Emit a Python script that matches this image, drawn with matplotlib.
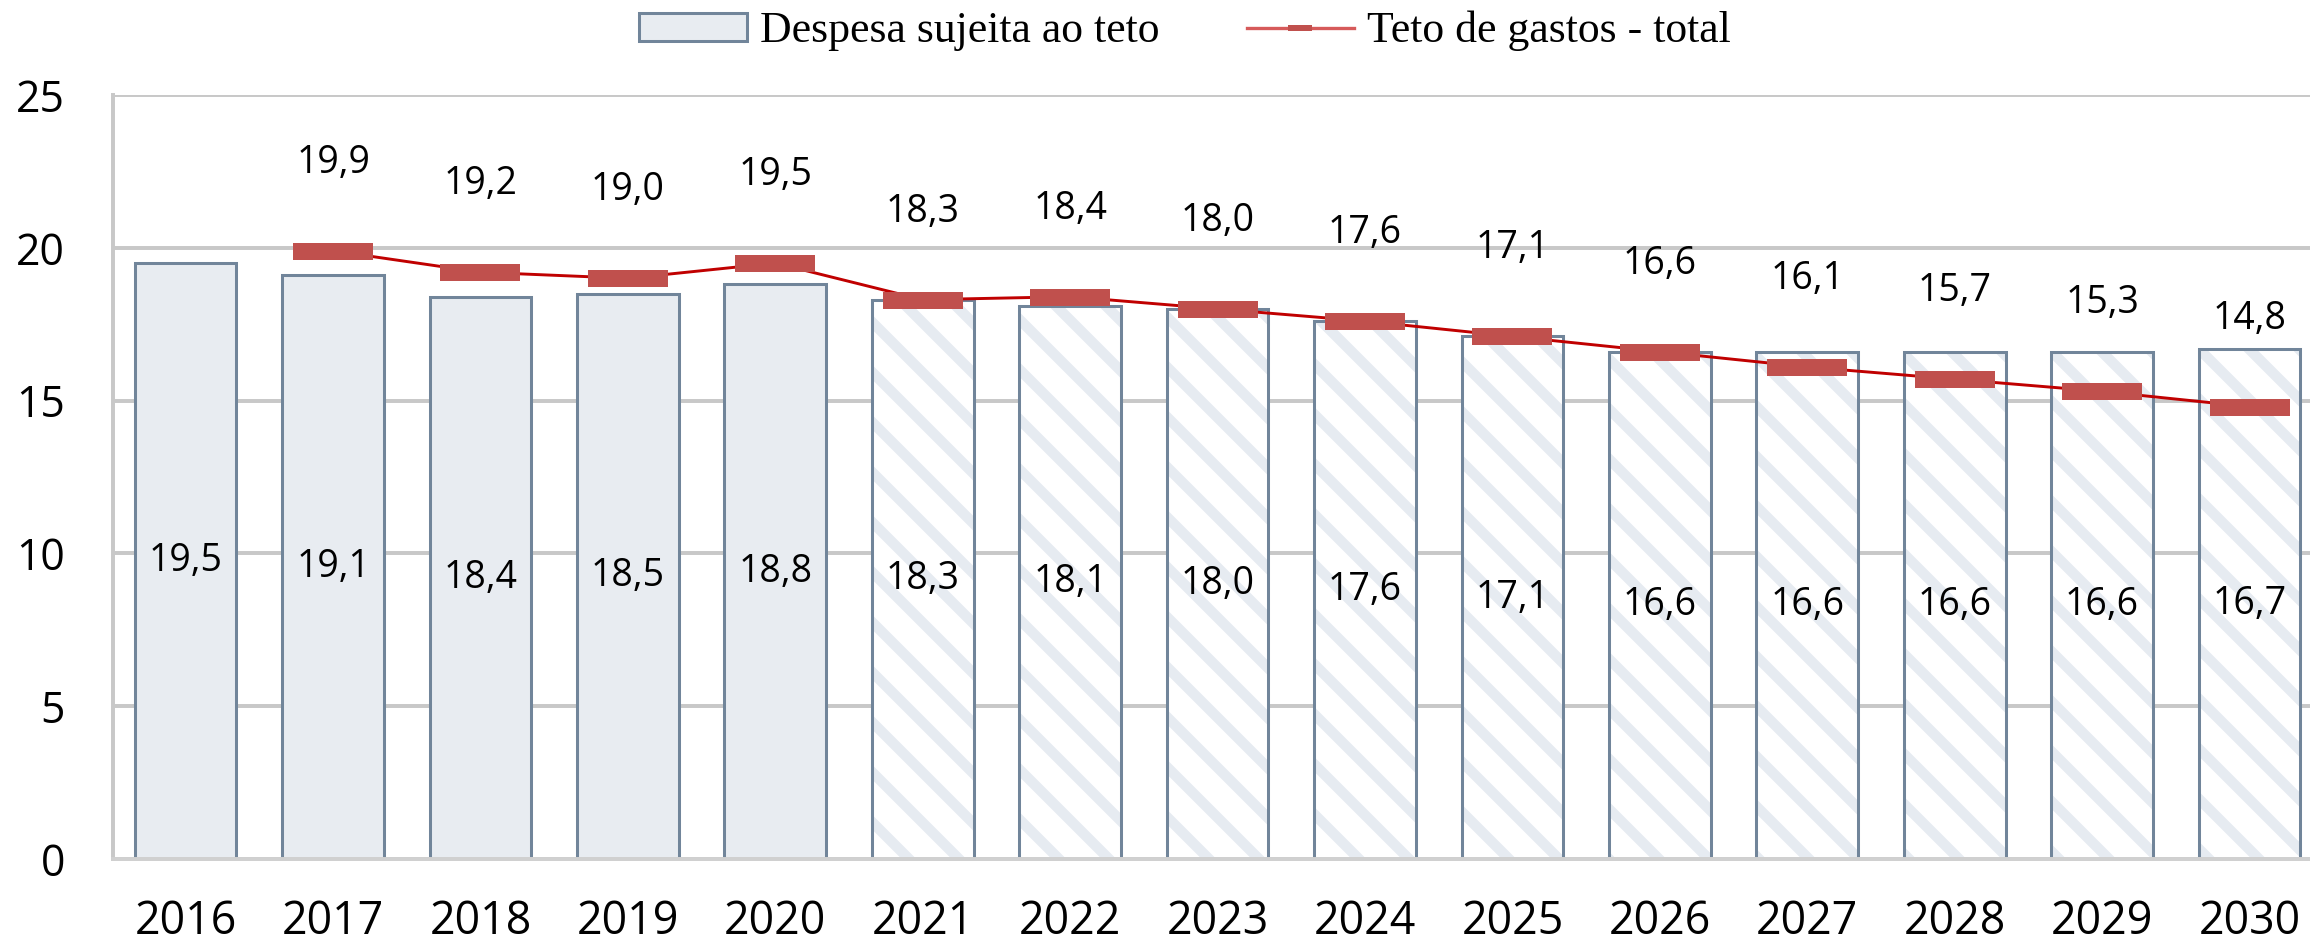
import matplotlib.pyplot as plt
from matplotlib.patches import Patch
from matplotlib.lines import Line2D
from matplotlib.path import Path

# dados
anos = ['2016', '2017', '2018', '2019', '2020', '2021', '2022', '2023',
        '2024', '2025', '2026', '2027', '2028', '2029', '2030']
despesa = [19.5, 19.1, 18.4, 18.5, 18.8, 18.3, 18.1, 18.0,
           17.6, 17.1, 16.6, 16.6, 16.6, 16.6, 16.7]
teto = [19.9, 19.2, 19.0, 19.5, 18.3, 18.4, 18.0,
        17.6, 17.1, 16.6, 16.1, 15.7, 15.3, 14.8]
n_realizado = 5  # 2016-2020 sem hachura

plt.rcParams['font.family'] = ['Open Sans', 'DejaVu Sans']
plt.rcParams['hatch.linewidth'] = 5.0

fig = plt.figure(figsize=(15.4, 6.3), dpi=150)
ax = fig.add_axes([0.0489, 0.091, 0.9511, 0.8085])

x = list(range(len(anos)))
borda = '#71859A'

for i, v in enumerate(despesa):
    if i < n_realizado:
        ax.bar(i, v, width=0.69, color='#E8ECF1', edgecolor=borda, linewidth=1.45, zorder=2)
    else:
        # hachura clara e borda separadas
        ax.bar(i, v, width=0.69, facecolor='white', edgecolor='#E6EBF1', linewidth=0,
               hatch='\\', zorder=2)
        ax.bar(i, v, width=0.69, fill=False, edgecolor=borda, linewidth=1.45, zorder=2.1)
    ax.text(i, v / 2, f'{v:.1f}'.replace('.', ','), ha='center', va='center',
            fontsize=18, zorder=5)

# teto de gastos
ret = Path([(-1, -0.2125), (1, -0.2125), (1, 0.2125), (-1, 0.2125), (-1, -0.2125)],
           [Path.MOVETO, Path.LINETO, Path.LINETO, Path.LINETO, Path.CLOSEPOLY])
xt = x[1:]
ax.plot(xt, teto, color='#C00000', linewidth=1.4, marker=ret, markersize=38.4,
        markerfacecolor='#C0504D', markeredgewidth=0, zorder=4)
for i, v in zip(xt, teto):
    ax.text(i, v + 2.88, f'{v:.1f}'.replace('.', ','), ha='center', va='center',
            fontsize=18, zorder=5)

ax.set_xlim(-0.493, 14.41)
ax.set_ylim(0, 25)
ax.set_yticks([0, 5, 10, 15, 20, 25])
ax.set_xticks(x)
ax.set_xticklabels(anos)
ax.tick_params(axis='x', length=0, pad=19, labelsize=21.5)
ax.tick_params(axis='y', length=0, pad=23, labelsize=20.5)

ax.grid(axis='y', color='#C8C8C8', linewidth=1.9)
ax.set_axisbelow(True)
for s in ['top', 'right']:
    ax.spines[s].set_visible(False)
ax.spines['left'].set_color('#C8C8C8')
ax.spines['left'].set_linewidth(1.9)
ax.spines['bottom'].set_color('#D0D0D0')
ax.spines['bottom'].set_linewidth(1.9)

# legenda
ret_leg = Path([(-1, -0.25), (1, -0.25), (1, 0.25), (-1, 0.25), (-1, -0.25)],
               [Path.MOVETO, Path.LINETO, Path.LINETO, Path.LINETO, Path.CLOSEPOLY])
handles = [
    Patch(facecolor='#E8ECF1', edgecolor=borda, linewidth=1.45),
    Line2D([], [], color='#D65A5A', linewidth=1.6, marker=ret_leg, markersize=11.5,
           markerfacecolor='#C0504D', markeredgewidth=0),
]
labels = ['Despesa sujeita ao teto', 'Teto de gastos - total']
fig.legend(handles, labels, loc='center', bbox_to_anchor=(0.513, 0.967), ncol=2,
           frameon=False, prop={'family': 'Liberation Serif', 'size': 21},
           handlelength=2.45, handleheight=0.6, handletextpad=0.3,
           columnspacing=2.0)

fig.savefig('out.png', dpi=150)
